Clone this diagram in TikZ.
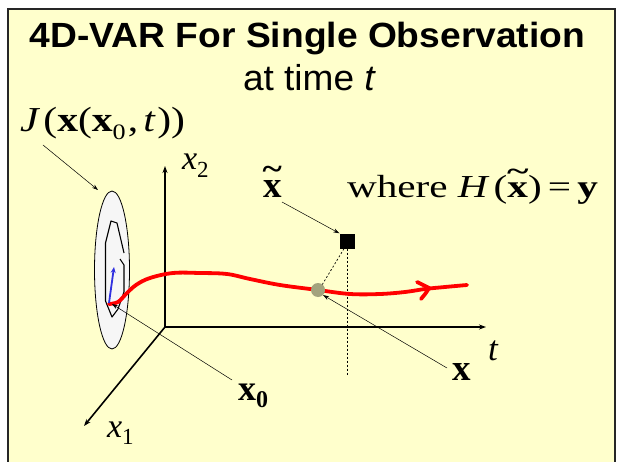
\documentclass[tikz,border=0pt]{standalone}
\usepackage{graphicx}
\usepackage{fontspec}
\setmainfont{Liberation Serif}
\newfontfamily\sansfam{Liberation Sans}
\usetikzlibrary{arrows.meta,shapes.geometric}
\definecolor{bgyellow}{HTML}{FFFFCC}
\definecolor{dotcol}{HTML}{A3A37D}
\definecolor{ellfill}{HTML}{F6F6F6}
\definecolor{blueA}{HTML}{3030E0}
\newcommand{\fitw}[2]{\resizebox{#1}{\height}{#2}}
\newcommand{\fs}[1]{\fontsize{#1}{#1}\selectfont}
\newcommand{\xtil}{\leavevmode\rlap{\textbf{x}}\makebox[0.5em][c]{\raisebox{0.5em}{\scalebox{1.0}[0.85]{\textbf{\textasciitilde}}}}}
\begin{document}
\begin{tikzpicture}[x=1pt,y=-1pt,
  axis/.style={line width=1.6pt,-{Stealth[length=7pt,width=5pt]}},
  pointer/.style={line width=0.5pt,-{Stealth[length=6pt,width=4pt]}},
  lbl/.style={anchor=base west,inner sep=0pt,outer sep=0pt},
  guide/.style={line width=0.7pt,dash pattern=on 2pt off 2pt},
  traj/.style={red,line width=3.8pt,line cap=round,line join=round}]
\useasboundingbox (0,0) rectangle (620,462);
\fill[white] (0,0) rectangle (620,462);
\fill[bgyellow] (8,9) rectangle (615,462);
\draw[line width=2pt,black!85] (8,470) -- (8,9) -- (615,9) -- (615,470);

% titles
\node[anchor=base,inner sep=0pt] (title) at (307.5,48)
  {\fitw{555pt}{\sansfam\bfseries\fs{35}4D-VAR For Single Observation}};
\node[anchor=base,inner sep=0pt] (sub) at (309.5,91)
  {\fitw{133pt}{\sansfam\fs{36}at time \textit{t}}};

% cost function label
\node[lbl] (J) at (20,132)
  {\fitw{165pt}{\fs{35}\textit{J}\hspace{0.08em}(\textbf{x}(\textbf{x}\raisebox{-0.22em}{\fs{22}0}\hspace{0.05em},\hspace{0.12em}\textit{t}\hspace{0.04em}))}};

% ellipse and contour
\node[ellipse,draw,line width=0.8pt,fill=ellfill,minimum width=35pt,minimum height=158pt,inner sep=0pt] (ell) at (112,270) {};
\draw[line width=1.1pt,line join=round] (124,253) -- (117,223) -- (111,221) -- (105.5,243) -- (105.5,301) -- (112,317)
  -- (118,309) -- (124,292) -- (124,265) -- (120,259);

% axes
\coordinate (O) at (165,327);
\coordinate (x2end) at (165,166);
\coordinate (tend) at (486,327);
\coordinate (x1end) at (84,426);
\draw[axis] (O) -- (x2end);
\draw[axis] (O) -- (tend);
\draw[axis] (O) -- (x1end);

\node[lbl] (x2) at (182,170) {\fs{34}\textit{x}\raisebox{-0.22em}{\fs{23}2}};
\node[lbl] (x1) at (107,437) {\fs{34}\textit{x}\raisebox{-0.22em}{\fs{23}1}};
\node[lbl] (tl) at (488,360) {\fs{35}\textit{t}};

% observation and state
\node[fill=black,minimum size=15pt,inner sep=0pt] (obs) at (347,241) {};
\coordinate (vbot) at (347,376);
\draw[guide] (obs.south) -- (vbot);
\draw[guide] ([xshift=-3pt]obs.south) -- (322,285);

% trajectory
\draw[traj] plot[smooth,tension=0.6] coordinates {(109,304) (118,302) (126,294) (136,285) (150,278) (173,273) (200,273) (227,274) (250,279) (280,285) (318,290) (350,294) (380,294) (405,292) (425,289) (445,287) (467,285)};
\draw[traj] (417,282) -- (429,288) .. controls (426,293) .. (421,299);

\node[circle,fill=dotcol,minimum size=14pt,inner sep=0pt] (xt) at (318,290) {};

% blue gradient arrow
\coordinate (bstart) at (109,303);
\coordinate (bend) at (114,267);
\draw[blueA,line width=1.8pt,-{Stealth[length=6pt,width=5pt]}] (bstart) -- (bend);

% labels with pointers
\node[lbl] (xtl) at (263,198) {\fs{37}\xtil};
\node[lbl] (where) at (347,197)
  {\fitw{251pt}{\fs{32}where \textit{H}\hspace{0.1em}(\xtil)\hspace{0.15em}=\hspace{0.15em}\textbf{y}}};
\node[lbl] (xl) at (452,380) {\fs{37}\textbf{x}};
\node[lbl] (x0l) at (238,400) {\fs{36}\textbf{x}\raisebox{-0.22em}{\fs{24}\textbf{0}}};

\coordinate (Jp) at (43,145);
\coordinate (ellp) at (98,190);
\draw[pointer] (Jp) -- (ellp);
\coordinate (xtp) at (282,202);
\draw[pointer] (xtp) -- (obs.north west);
\coordinate (xp) at (447,368);
\draw[pointer] (xp) -- (xt.south east);
\coordinate (x0p) at (232,380);
\coordinate (x0tip) at (112,304);
\draw[pointer] (x0p) -- (x0tip);
\end{tikzpicture}
\end{document}
